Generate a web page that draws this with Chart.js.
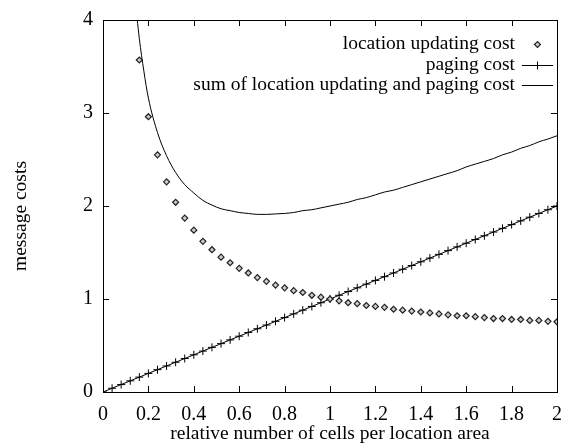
<!DOCTYPE html>
<html>
<head>
<meta charset="utf-8">
<script src="https://cdn.jsdelivr.net/npm/chart.js@4.4.0/dist/chart.umd.min.js"></script>
<style>
  html, body { margin: 0; padding: 0; background: #fff; }
  #wrap { width: 575px; height: 444px; }
</style>
</head>
<body>
<div id="wrap"><canvas id="costChart" width="575" height="444"></canvas></div>
<script>
// x grid used by the measured series (relative number of cells per LA)
const gridX = [0, 0.04, 0.08, 0.12, 0.16, 0.2, 0.24, 0.28, 0.32, 0.36, 0.4, 0.44, 0.48, 0.52, 0.56, 0.6,
  0.64, 0.68, 0.72, 0.76, 0.8, 0.84, 0.88, 0.92, 0.96, 1, 1.04, 1.08, 1.12, 1.16, 1.2, 1.24, 1.28,
  1.32, 1.36, 1.4, 1.44, 1.48, 1.52, 1.56, 1.6, 1.64, 1.68, 1.72, 1.76, 1.8, 1.84, 1.88, 1.92, 1.96, 2];

// location updating cost (diamonds); nothing plotted below 0.16
const locationCost = [null, null, null, null, 3.57, 2.96, 2.55, 2.26, 2.04, 1.87, 1.74, 1.62, 1.53, 1.45,
  1.39, 1.33, 1.28, 1.23, 1.19, 1.15, 1.12, 1.09, 1.07, 1.04, 1.02, 1.00, 0.98, 0.96, 0.95, 0.93, 0.92,
  0.91, 0.89, 0.88, 0.87, 0.86, 0.85, 0.84, 0.83, 0.82, 0.82, 0.81, 0.80, 0.79, 0.79, 0.78, 0.78, 0.77,
  0.77, 0.76, 0.755];

// paging cost (crosses)
const pagingCost = [0, 0.04, 0.08, 0.12, 0.16, 0.2, 0.24, 0.28, 0.32, 0.36, 0.4, 0.44, 0.48, 0.52, 0.56, 0.6,
  0.64, 0.68, 0.72, 0.76, 0.8, 0.84, 0.88, 0.92, 0.96, 1, 1.04, 1.08, 1.12, 1.16, 1.2, 1.24, 1.28,
  1.32, 1.36, 1.4, 1.44, 1.48, 1.52, 1.56, 1.6, 1.64, 1.68, 1.72, 1.76, 1.8, 1.84, 1.88, 1.92, 1.96, 2];

// sum curve (plain line), sampled a little denser where it is steep
const sumX = [0.13, 0.14, 0.15, 0.16, 0.18, 0.2, 0.24, 0.28, 0.32, 0.36, 0.4, 0.44, 0.48, 0.52, 0.56, 0.6,
  0.64, 0.68, 0.72, 0.76, 0.8, 0.84, 0.88, 0.92, 0.96, 1, 1.04, 1.08, 1.12, 1.16, 1.2, 1.24, 1.28,
  1.32, 1.36, 1.4, 1.44, 1.48, 1.52, 1.56, 1.6, 1.64, 1.68, 1.72, 1.76, 1.8, 1.84, 1.88, 1.92, 1.96, 2];
const sumCost = [4.45, 4.22, 4.02, 3.80, 3.45, 3.16, 2.79, 2.54, 2.36, 2.23, 2.14, 2.06, 2.01, 1.97, 1.95,
  1.93, 1.92, 1.91, 1.91, 1.915, 1.92, 1.93, 1.95, 1.96, 1.98, 2.00, 2.02, 2.04, 2.07, 2.09, 2.12, 2.15,
  2.17, 2.20, 2.23, 2.26, 2.29, 2.32, 2.35, 2.38, 2.42, 2.45, 2.48, 2.51, 2.55, 2.58, 2.62, 2.65, 2.69,
  2.72, 2.755];

const xTicks = [0, 0.2, 0.4, 0.6, 0.8, 1, 1.2, 1.4, 1.6, 1.8, 2];
const xTickLabels = ['0', '0.2', '0.4', '0.6', '0.8', '1', '1.2', '1.4', '1.6', '1.8', '2'];
const yTicks = [0, 1, 2, 3, 4];
const yTickLabels = ['0', '1', '2', '3', '4'];

const seriesLabels = ['location updating cost', 'paging cost', 'sum of location updating and paging cost'];
const yTitle = 'message costs';

const toPoints = (xs, ys) => xs.map((x, i) => ({ x: x, y: ys[i] })).filter(p => p.y !== null);

const FONT = '"Liberation Serif", "DejaVu Serif", serif';

// frame with inward ticks, gnuplot style, plus the y label
const framePlugin = {
  id: 'frame',
  afterDatasetsDraw(chart) {
    const ctx = chart.ctx;
    const a = chart.chartArea;
    const xs = chart.scales.x, ys = chart.scales.y;
    ctx.save();
    ctx.strokeStyle = '#000';
    ctx.lineWidth = 1;
    ctx.strokeRect(Math.round(a.left) + 0.5, Math.round(a.top) + 0.5,
      Math.round(a.right - a.left), Math.round(a.bottom - a.top));
    ctx.beginPath();
    xTicks.forEach(v => {
      const px = Math.round(xs.getPixelForValue(v)) + 0.5;
      ctx.moveTo(px, a.bottom); ctx.lineTo(px, a.bottom - 6);
      ctx.moveTo(px, a.top); ctx.lineTo(px, a.top + 6);
    });
    yTicks.forEach(v => {
      const py = Math.round(ys.getPixelForValue(v)) + 0.5;
      ctx.moveTo(a.left, py); ctx.lineTo(a.left + 6, py);
      ctx.moveTo(a.right, py); ctx.lineTo(a.right - 6, py);
    });
    ctx.stroke();

    // rotated y label, sits a little below the axis centre like gnuplot does
    ctx.translate(21, 216);
    ctx.rotate(-Math.PI / 2);
    ctx.font = '19.5px ' + FONT;
    ctx.fillStyle = '#000';
    ctx.textAlign = 'center';
    ctx.textBaseline = 'middle';
    ctx.fillText(yTitle, 0, 0);
    ctx.restore();
  }
};

// key in the upper right: text right aligned, sample to its right
const keyPlugin = {
  id: 'key',
  afterDraw(chart) {
    const ctx = chart.ctx;
    const textRight = 515, sampleL = 522, sampleR = 553;
    const rowY = [44, 65, 85];
    ctx.save();
    ctx.font = '19.5px ' + FONT;
    ctx.textAlign = 'right';
    ctx.textBaseline = 'middle';
    chart.data.datasets.forEach((ds, i) => {
      const y = rowY[i];
      ctx.fillStyle = '#000';
      ctx.fillText(ds.label, textRight, y);
      const mid = (sampleL + sampleR) / 2;
      ctx.lineWidth = 1;
      ctx.strokeStyle = ds.borderColor;
      if (ds.showLine) {
        ctx.beginPath();
        ctx.moveTo(sampleL, y + 0.5); ctx.lineTo(sampleR, y + 0.5);
        ctx.stroke();
      }
      if (ds.pointRadius > 0) {
        ctx.fillStyle = ds.pointBackgroundColor || '#fff';
        ctx.lineWidth = ds.pointBorderWidth || 1;
        Chart.helpers.drawPoint(ctx, {
          pointStyle: ds.pointStyle, radius: ds.pointRadius, borderWidth: ds.pointBorderWidth || 1
        }, mid, y + 0.5);
      }
    });
    ctx.restore();
  }
};

new Chart(document.getElementById('costChart'), {
  type: 'scatter',
  data: {
    datasets: [
      {
        label: seriesLabels[0],
        data: toPoints(gridX, locationCost),
        showLine: false,
        pointStyle: 'rectRot',
        pointRadius: 3,
        pointBorderWidth: 1.2,
        borderColor: '#222',
        pointBackgroundColor: '#ccc',
        backgroundColor: '#ccc'
      },
      {
        label: seriesLabels[1],
        data: toPoints(gridX, pagingCost),
        showLine: true,
        pointStyle: 'cross',
        pointRadius: 4,
        pointBorderWidth: 1,
        borderColor: '#000',
        borderWidth: 1,
        backgroundColor: '#000'
      },
      {
        label: seriesLabels[2],
        data: toPoints(sumX, sumCost),
        showLine: true,
        pointRadius: 0,
        borderColor: '#000',
        borderWidth: 1,
        cubicInterpolationMode: 'monotone'
      }
    ]
  },
  options: {
    responsive: false,
    animation: false,
    layout: { padding: { top: 18, right: 10, left: 83, bottom: 0 } },
    plugins: {
      legend: { display: false },
      tooltip: { enabled: false }
    },
    scales: {
      x: {
        type: 'linear',
        min: 0, max: 2,
        afterBuildTicks: s => { s.ticks = xTicks.map(v => ({ value: v })); },
        afterFit: s => { s.height = 52; },
        grid: { display: false, drawTicks: false },
        border: { display: false },
        ticks: {
          color: '#000', padding: 13, maxRotation: 0, autoSkip: false,
          font: { family: FONT, size: 20, lineHeight: 1 },
          callback: (v, i) => xTickLabels[i]
        },
        title: {
          display: true, text: 'relative number of cells per location area',
          color: '#000', font: { family: FONT, size: 19.5, lineHeight: 1 }, padding: { top: 1, bottom: 0 }
        }
      },
      y: {
        type: 'linear',
        min: 0, max: 4,
        afterBuildTicks: s => { s.ticks = yTicks.map(v => ({ value: v })); },
        afterFit: s => { s.width = 20; },
        grid: { display: false, drawTicks: false },
        border: { display: false },
        ticks: {
          color: '#000', padding: 10,
          font: { family: FONT, size: 20, lineHeight: 1 },
          callback: (v, i) => yTickLabels[i]
        }
      }
    }
  },
  plugins: [framePlugin, keyPlugin]
});
</script>
</body>
</html>
